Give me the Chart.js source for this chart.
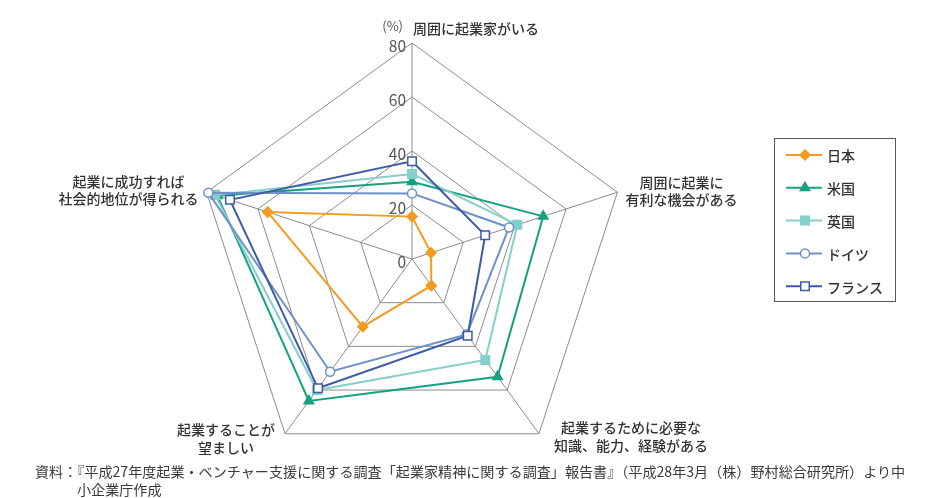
<!DOCTYPE html>
<html lang="ja">
<head>
<meta charset="utf-8">
<script src="https://cdn.jsdelivr.net/npm/chart.js@4/dist/chart.umd.min.js"></script>
<style>
  html, body { margin: 0; padding: 0; background: #ffffff; }
  #wrap { position: relative; width: 929px; height: 498px; overflow: hidden; }
  canvas { position: absolute; left: 0; top: 0; }
  .note { position: absolute; font-family: "Noto Sans CJK JP", sans-serif; font-size: 14.1px; color: #3a3a3a; white-space: nowrap; line-height: 18px; }
</style>
</head>
<body>
<div id="wrap">
  <canvas id="c" width="929" height="498"></canvas>
  <div class="note" style="left:35px; top:462px;">資料：『平成27年度起業・ベンチャー支援に関する調査「起業家精神に関する調査」報告書』（平成28年3月（株）野村総合研究所）より中</div>
  <div class="note" style="left:77px; top:480px;">小企業庁作成</div>
</div>
<script>
// ---- data ----
const categories = [
  ['周囲に起業家がいる'],
  ['周囲に起業に', '有利な機会がある'],
  ['起業するために必要な', '知識、能力、経験がある'],
  ['起業することが', '望ましい'],
  ['起業に成功すれば', '社会的地位が得られる']
];
const seriesNames = ['日本', '米国', '英国', 'ドイツ', 'フランス'];
const japan   = [15.7, 7.4, 12.2, 31.0, 56.2];
const usa     = [28.6, 51.1, 53.9, 65.0, 75.8];
const uk      = [31.5, 41.0, 46.2, 60.0, 76.7];
const germany = [24.3, 37.8, 34.5, 51.6, 79.3];
const france  = [36.2, 28.5, 35.1, 59.2, 70.9];
const tickMin = 0, tickMax = 80, tickStep = 20;
const unitLabel = '(%)';

// ---- styles ----
const styles = [
  { color: '#F39B1F', point: 'rectRot',  radius: 5,   fill: '#F39B1F', order: 4 },
  { color: '#15A37F', point: 'triangle', radius: 5.5, fill: '#15A37F', order: 3 },
  { color: '#84CFCA', point: 'rect',     radius: 6,   fill: '#84CFCA', order: 2 },
  { color: '#6C91C6', point: 'circle',   radius: 4.5, fill: '#FFFFFF', order: 1 },
  { color: '#3D5BA7', point: 'rect',     radius: 6,   fill: '#FFFFFF', order: 0 }
];
const allSeries = [japan, usa, uk, germany, france];

const datasets = allSeries.map((d, i) => ({
  label: seriesNames[i],
  data: d,
  order: styles[i].order,
  borderColor: styles[i].color,
  backgroundColor: styles[i].fill,
  borderWidth: 2,
  fill: false,
  pointStyle: styles[i].point,
  pointRadius: styles[i].radius,
  pointBackgroundColor: styles[i].fill,
  pointBorderColor: styles[i].color,
  pointBorderWidth: 1.5,
  tension: 0
}));

// label placement relative to each axis end point
const labelLayout = [
  { dx: 1,   dy: -14, align: 'left' },
  { dx: 64,  dy: -10, align: 'center' },
  { dx: 92,  dy: -6,  align: 'center' },
  { dx: -59, dy: -4,  align: 'center' },
  { dx: -78, dy: -11, align: 'center' }
];
const FONT = '"Noto Sans CJK JP", "Noto Sans", sans-serif';

const overlay = {
  id: 'overlay',
  afterDraw(chart) {
    const ctx = chart.ctx;
    const s = chart.scales.r;
    ctx.save();
    // tick labels
    ctx.font = '15.5px ' + FONT;
    ctx.fillStyle = '#555555';
    ctx.textAlign = 'right';
    ctx.textBaseline = 'middle';
    s.ticks.forEach(t => {
      const y = s.yCenter - s.getDistanceFromCenterForValue(t.value);
      ctx.fillText(String(t.value), s.xCenter - 6, y + 3);
    });
    // unit label
    ctx.font = '13px ' + FONT;
    ctx.fillText(unitLabel, s.xCenter - 9, s.yCenter - s.drawingArea - 17);
    // category labels
    ctx.font = '500 14px ' + FONT;
    ctx.fillStyle = '#333333';
    chart.data.labels.forEach((lab, i) => {
      const p = s.getPointPosition(i, s.drawingArea);
      const L = labelLayout[i];
      ctx.textAlign = L.align;
      lab.forEach((line, k) => {
        ctx.fillText(line, p.x + L.dx, p.y + L.dy + k * 17.5);
      });
    });
    // legend
    const bx = 774.5, by = 138.5, bw = 121, bh = 163;
    ctx.strokeStyle = '#595959';
    ctx.lineWidth = 1;
    ctx.strokeRect(bx, by, bw, bh);
    chart.data.datasets.forEach((ds, i) => {
      const y = 155 + i * 32.8;
      ctx.strokeStyle = ds.borderColor;
      ctx.lineWidth = 2;
      ctx.beginPath();
      ctx.moveTo(786, y);
      ctx.lineTo(822, y);
      ctx.stroke();
      ctx.fillStyle = ds.pointBackgroundColor;
      ctx.strokeStyle = ds.pointBorderColor;
      ctx.lineWidth = 1.5;
      Chart.helpers.drawPoint(ctx, { pointStyle: ds.pointStyle, radius: ds.pointRadius, borderWidth: 1.5, rotation: 0 }, 805, y);
      ctx.fillStyle = '#333333';
      ctx.font = '500 14px ' + FONT;
      ctx.textAlign = 'left';
      ctx.fillText(ds.label, 827, y + 1);
    });
    ctx.restore();
  }
};

new Chart(document.getElementById('c'), {
  type: 'radar',
  data: { labels: categories, datasets: datasets },
  options: {
    responsive: false,
    animation: false,
    layout: { padding: { left: 196, right: 300, top: 43, bottom: 22 } },
    plugins: { legend: { display: false }, tooltip: { enabled: false } },
    elements: { line: { tension: 0 } },
    scales: {
      r: {
        min: tickMin,
        max: tickMax,
        beginAtZero: true,
        ticks: { stepSize: tickStep, display: false, showLabelBackdrop: false },
        pointLabels: { display: false },
        grid: { circular: false, color: '#8C8C8C', lineWidth: 1 },
        angleLines: { display: true, color: '#8C8C8C', lineWidth: 1 }
      }
    }
  },
  plugins: [overlay]
});
</script>
</body>
</html>
